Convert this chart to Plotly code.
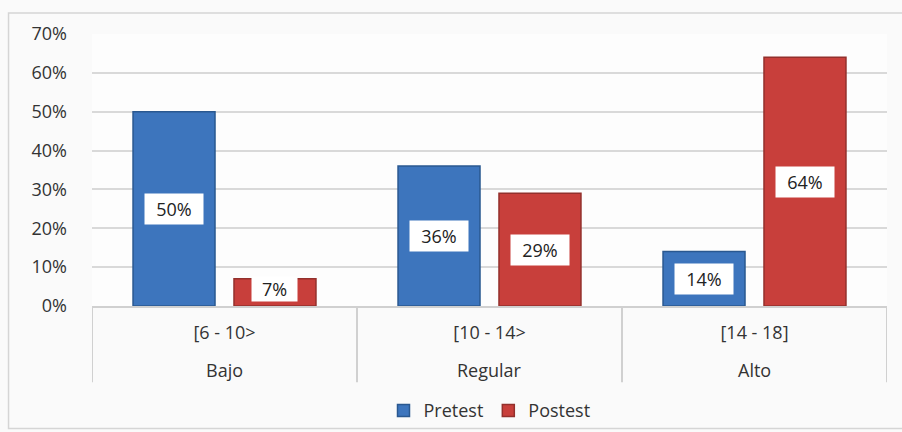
import plotly.graph_objects as go

niveles = ["Bajo", "Regular", "Alto"]
intervalos = ["[6 - 10>", "[10 - 14>", "[14 - 18]"]
pretest = [50, 36, 14]
postest = [7, 29, 64]
series = [("Pretest", pretest, "#3d75bd", "#2a5890"), ("Postest", postest, "#c83f3b", "#93302c")]
y_ticks = [0, 10, 20, 30, 40, 50, 60, 70]

FONT = "Open Sans"
FS = 18
BARGAP = 0.238
GROUPGAP = 0.188

fig = go.Figure()
for name, vals, col, edge in series:
    fig.add_trace(go.Bar(
        name=name, x=intervalos, y=vals,
        marker=dict(color=col, line=dict(color=edge, width=1.5)),
        hoverinfo="skip",
    ))

slot = (1 - BARGAP) / 2
offsets = [-slot / 2, slot / 2]
annotations = []
for k, (name, vals, col, edge) in enumerate(series):
    for i, v in enumerate(vals):
        txt = f"{v}%"
        small = v < 10
        annotations.append(dict(
            x=i + offsets[k], y=max(v / 2, 4.4), xref="x2", yref="y",
            text=txt, showarrow=False, bgcolor="white",
            width=32 + 13 * len(str(v)), height=24 if small else 30, borderpad=0,
            font=dict(family=FONT, size=FS, color="#222"), yanchor="middle",
        ))
# outer category labels
for i, lvl in enumerate(niveles):
    annotations.append(dict(
        x=i, y=0, xref="x2", yref="y", yshift=-64, text=lvl, showarrow=False,
        font=dict(family=FONT, size=FS, color="#333"), yanchor="middle",
    ))

shapes = []
for b in [-0.5, 0.5, 1.5, 2.5]:
    shapes.append(dict(type="line", xref="x2", yref="paper", x0=b, x1=b, y0=0, y1=-0.28,
                       line=dict(color="#d0d0d0", width=2)))
shapes.append(dict(type="rect", xref="paper", yref="paper", x0=-0.105, x1=1.02, y0=-0.45, y1=1.077,
                   line=dict(color="#d5d5d5", width=1.5), fillcolor="rgba(0,0,0,0)", layer="below"))

fig.add_trace(go.Scatter(x=[0, 1, 2], y=[None, None, None], xaxis="x2", showlegend=False, hoverinfo="skip"))

fig.update_layout(
    width=902, height=432,
    margin=dict(l=92, r=15, t=34, b=126, autoexpand=False),
    paper_bgcolor="#fafafa", plot_bgcolor="rgba(255,255,255,0.5)",
    barmode="group", bargap=BARGAP, bargroupgap=GROUPGAP,
    font=dict(family=FONT, size=FS, color="#333"),
    yaxis=dict(range=[0, 70], tickvals=y_ticks, ticktext=[f"{t}%" for t in y_ticks],
               showgrid=True, gridcolor="#d9d9d9", gridwidth=1.5, zeroline=False, automargin=False,
               ticks="", ticklabelstandoff=24, tickfont=dict(size=FS, color="#333")),
    xaxis=dict(type="category", showline=True, linecolor="#d0d0d0", linewidth=2, automargin=False,
               tickfont=dict(size=FS, color="#333"), ticks="", ticklabelstandoff=9),
    xaxis2=dict(overlaying="x", range=[-0.5, 2.5], visible=False),
    legend=dict(orientation="h", x=0.5, xanchor="center", y=-0.385, yanchor="middle",
                font=dict(size=FS, color="#333"), bgcolor="rgba(0,0,0,0)"),
    annotations=annotations,
    shapes=shapes,
)

fig.write_html("out.html", config={"displayModeBar": False},
               post_script="document.body.style.margin='0';document.body.style.overflow='hidden';")
